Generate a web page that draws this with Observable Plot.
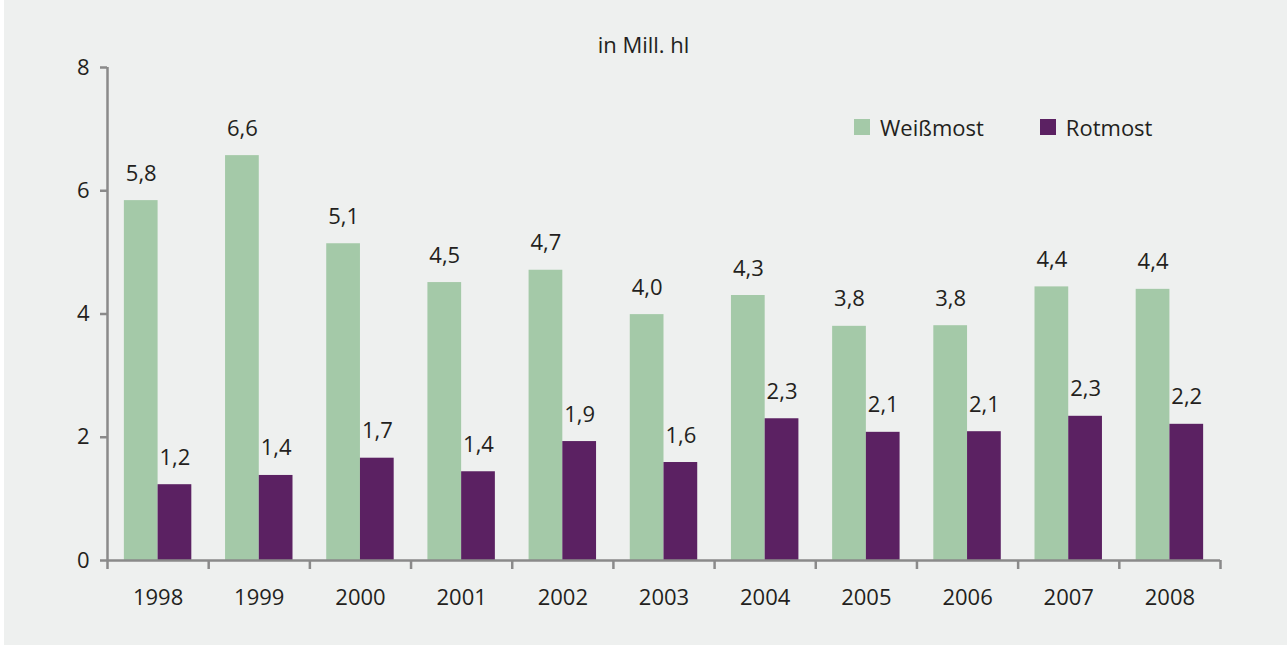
<!DOCTYPE html>
<html>
<head>
<meta charset="utf-8">
<script src="https://cdn.jsdelivr.net/npm/d3@7"></script>
<script src="https://cdn.jsdelivr.net/npm/@observablehq/plot@0.6"></script>
<style>
  html, body { margin: 0; padding: 0; background: #ffffff; }
  #wrap { position: absolute; left: 4px; top: 0; width: 1283px; height: 645px; background: #eef0ef; overflow: hidden;
          font-family: "Open Sans", sans-serif; color: #231f20; }
  #chart { position: absolute; left: -4px; top: 0; }
  #title { position: absolute; left: -4px; width: 1287px; top: 29px; text-align: center; font-size: 22px; }
  #legend { position: absolute; left: 850px; top: 112px; font-size: 22px; display: flex; align-items: center; }
  .item { display: flex; align-items: center; }
  .sw { width: 16px; height: 16px; display: inline-block; margin-right: 10px; }
</style>
</head>
<body>
<div id="wrap">
  <div id="chart"></div>
  <div id="title"></div>
  <div id="legend"></div>
</div>
<script>
const years = [1998, 1999, 2000, 2001, 2002, 2003, 2004, 2005, 2006, 2007, 2008];
const weissmost = [5.84, 6.57, 5.14, 4.51, 4.71, 3.99, 4.30, 3.80, 3.81, 4.44, 4.40];
const rotmost = [1.23, 1.38, 1.66, 1.44, 1.93, 1.59, 2.30, 2.08, 2.09, 2.34, 2.21];
const seriesNames = ["Weißmost", "Rotmost"];
const seriesColors = ["#a4c9a8", "#5b2162"];
const yTicks = [0, 2, 4, 6, 8];
const titleText = "in Mill. hl";

const fmt = v => d3.format(".1f")(v).replace(".", ",");
const barFrac = 1 / 3;

const data = [];
years.forEach((yr, i) => {
  data.push({year: yr, series: seriesNames[0], value: weissmost[i], x1: yr - barFrac, x2: yr});
  data.push({year: yr, series: seriesNames[1], value: rotmost[i], x1: yr, x2: yr + barFrac});
});
const boundaries = years.map(y => y - 0.5).concat([years[years.length - 1] + 0.5]);

const axisColor = "#8a8a8a";

const chart = Plot.plot({
  width: 1287,
  height: 646,
  marginLeft: 107,
  marginRight: 67,
  marginTop: 67,
  marginBottom: 86,
  style: {background: "transparent", fontFamily: "Open Sans, sans-serif", fontSize: "22px", color: "#231f20", overflow: "visible"},
  x: {type: "linear", domain: [boundaries[0], boundaries[boundaries.length - 1]]},
  y: {domain: [0, d3.max(yTicks)]},
  color: {domain: seriesNames, range: seriesColors},
  marks: [
    Plot.rectY(data, {x1: "x1", x2: "x2", y: "value", fill: "series"}),
    Plot.text(data, {x: d => (d.x1 + d.x2) / 2, y: "value", text: d => fmt(d.value), lineAnchor: "bottom", dy: -20, fill: "#231f20"}),
    Plot.ruleY([0], {stroke: axisColor, strokeWidth: 2.5}),
    Plot.ruleX([boundaries[0]], {stroke: axisColor, strokeWidth: 2.5}),
    Plot.axisY({ticks: yTicks, tickSize: 7, tickPadding: 11, stroke: axisColor, strokeWidth: 2.5, label: null, tickFormat: d => String(d), fill: "#231f20"}),
    Plot.axisX({ticks: boundaries, tickSize: 9, stroke: axisColor, strokeWidth: 2.5, tickFormat: () => "", label: null}),
    Plot.axisX({ticks: years, tickSize: 0, tickPadding: 29, tickFormat: d => String(d), label: null, fill: "#231f20"})
  ]
});
document.getElementById("chart").appendChild(chart);

document.getElementById("title").textContent = titleText;
const legend = document.getElementById("legend");
seriesNames.forEach((name, i) => {
  const item = document.createElement("span");
  item.className = "item";
  if (i > 0) item.style.marginLeft = "56px";
  const sw = document.createElement("span");
  sw.className = "sw";
  sw.style.background = seriesColors[i];
  item.appendChild(sw);
  item.appendChild(document.createTextNode(name));
  legend.appendChild(item);
});
</script>
</body>
</html>
